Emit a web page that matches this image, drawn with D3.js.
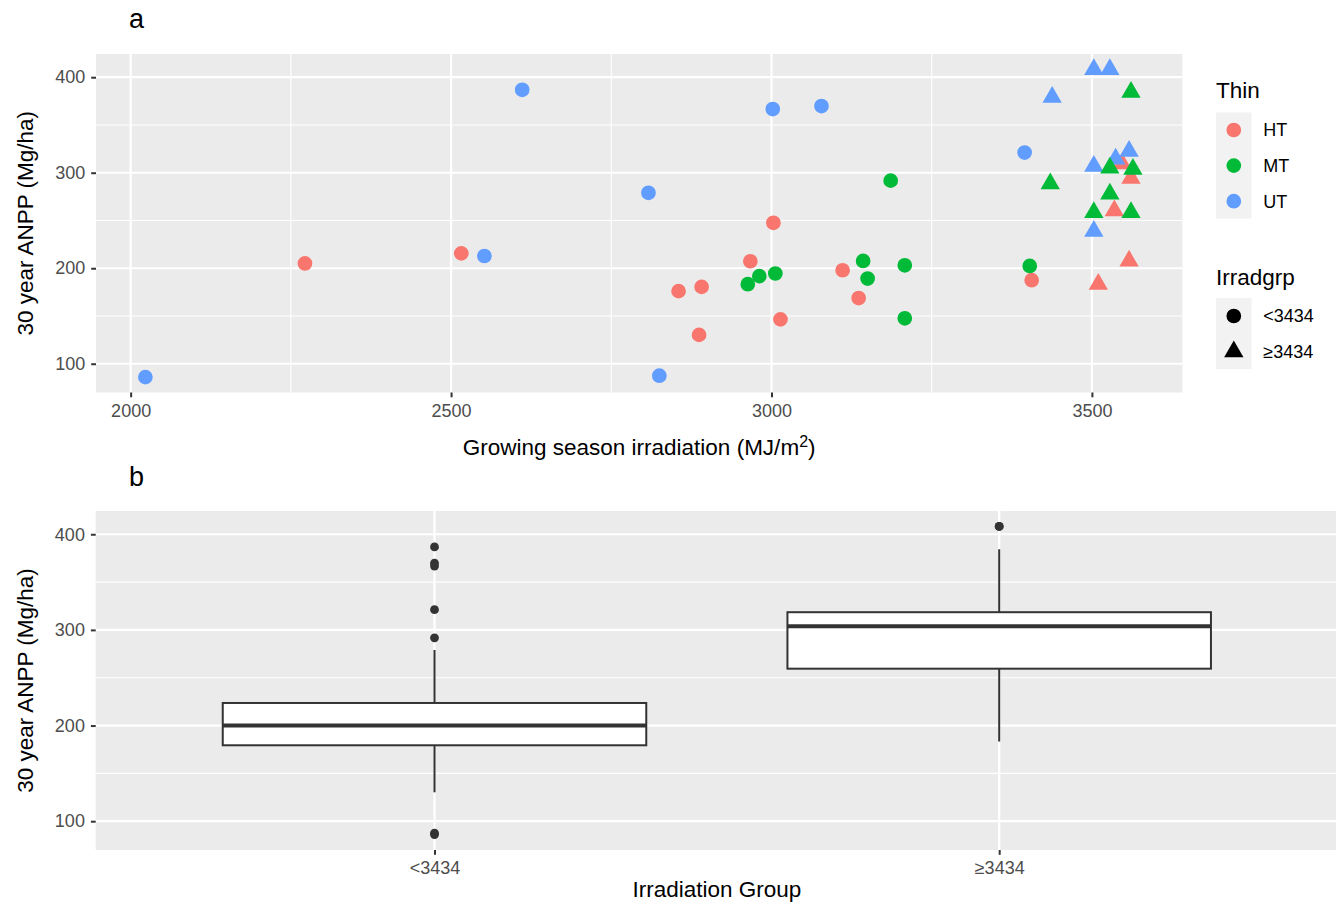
<!DOCTYPE html>
<html>
<head>
<meta charset="utf-8">
<script src="https://cdn.jsdelivr.net/npm/d3@7.9.0/dist/d3.min.js"></script>
<style>
  body { margin: 0; background: #fff; }
  svg { display: block; font-family: "Liberation Sans", Arial, sans-serif; }
</style>
</head>
<body>
<svg id="chart" width="1336" height="902"></svg>
<script>
// values, one entry per stand (rows kept aligned)
const thin = [
  'HT','HT','HT','HT','HT','HT','HT','HT','HT','HT','HT',
  'HT','HT','HT','HT','HT',
  'UT','UT','UT','UT','UT','UT','UT','UT',
  'UT','UT','UT','UT','UT','UT','UT',
  'MT','MT','MT','MT','MT','MT','MT','MT','MT',
  'MT','MT','MT','MT','MT','MT','MT'
];
const irradiation = [
  2272, 2516, 3003, 2967, 2855, 2891, 2887, 3014, 3111, 3136, 3406,
  3547, 3561, 3535, 3558, 3510,
  2023, 2552, 2611, 2808, 2825, 3002, 3078, 3395,
  3503, 3528, 3438, 3558, 3537, 3503, 3503,
  3186, 2981, 3006, 2963, 3143, 3150, 3208, 3208, 3403,
  3561, 3528, 3564, 3435, 3528, 3503, 3561
];
const anpp = [
  205, 215.6, 247.6, 207.3, 176, 180.5, 130.2, 146.5, 197.9, 168.8, 187.5,
  309.6, 294.4, 260.4, 207.6, 183.3,
  86, 212.8, 386.8, 279, 87.5, 366.7, 369.8, 321.1,
  408.2, 408.2, 379.1, 322.5, 314.5, 306.9, 238.9,
  291.7, 191.7, 194.5, 183.3, 207.6, 189.2, 203.1, 147.6, 202.4,
  384.3, 305.1, 303.7, 288.5, 277.8, 258.5, 258.5
];
const irradgrp = [
  '<3434','<3434','<3434','<3434','<3434','<3434','<3434','<3434','<3434','<3434','<3434',
  '≥3434','≥3434','≥3434','≥3434','≥3434',
  '<3434','<3434','<3434','<3434','<3434','<3434','<3434','<3434',
  '≥3434','≥3434','≥3434','≥3434','≥3434','≥3434','≥3434',
  '<3434','<3434','<3434','<3434','<3434','<3434','<3434','<3434','<3434',
  '≥3434','≥3434','≥3434','≥3434','≥3434','≥3434','≥3434'
];

const thinLevels = ['HT', 'MT', 'UT'];
const thinColors = ['#F8766D', '#00BA38', '#619CFF'];
const irradLevels = ['<3434', '≥3434'];
const xTicks = [2000, 2500, 3000, 3500];
const xMinor = [2250, 2750, 3250];
const yTicks = [100, 200, 300, 400];
const yMinor = [150, 250, 350];

const data = thin.map((t, i) => ({
  thin: t,
  x: irradiation[i],
  y: anpp[i],
  grp: irradgrp[i],
}));

const svg = d3.select('#chart');
const color = d3.scaleOrdinal().domain(thinLevels).range(thinColors);
const shape = d3.scaleOrdinal().domain(irradLevels).range([d3.symbolCircle, d3.symbolTriangle]);
const shapeSize = { '<3434': 170, '≥3434': 162 };
const symbol = (g) => d3.symbol().type(shape(g)).size(shapeSize[g])();

const TICK = '#333333', LABEL = '#4D4D4D', PANEL = '#EBEBEB';
const TITLE_SIZE = '22.5px', TEXT_SIZE = '18px';

// ggplot style 5% expansion
function expanded(vals) {
  const [lo, hi] = d3.extent(vals);
  const pad = (hi - lo) * 0.05;
  return [lo - pad, hi + pad];
}

function drawGrid(g, area, xScale, yScale, xMaj, xMin) {
  g.append('rect')
    .attr('x', area.left).attr('y', area.top)
    .attr('width', area.right - area.left).attr('height', area.bottom - area.top)
    .attr('fill', PANEL);
  g.selectAll('.ymin').data(yMinor).join('line')
    .attr('x1', area.left).attr('x2', area.right)
    .attr('y1', d => yScale(d)).attr('y2', d => yScale(d))
    .attr('stroke', '#fff').attr('stroke-width', 1.1);
  g.selectAll('.xmin').data(xMin).join('line')
    .attr('y1', area.top).attr('y2', area.bottom)
    .attr('x1', d => xScale(d)).attr('x2', d => xScale(d))
    .attr('stroke', '#fff').attr('stroke-width', 1.1);
  g.selectAll('.ymaj').data(yTicks).join('line')
    .attr('x1', area.left).attr('x2', area.right)
    .attr('y1', d => yScale(d)).attr('y2', d => yScale(d))
    .attr('stroke', '#fff').attr('stroke-width', 2.2);
  g.selectAll('.xmaj').data(xMaj).join('line')
    .attr('y1', area.top).attr('y2', area.bottom)
    .attr('x1', d => xScale(d)).attr('x2', d => xScale(d))
    .attr('stroke', '#fff').attr('stroke-width', 2.2);
}

function styleAxis(g) {
  g.attr('font-size', null).attr('font-family', null);
  g.select('.domain').remove();
  g.selectAll('.tick line').attr('stroke', TICK).attr('stroke-width', 2);
  g.selectAll('.tick text').attr('fill', LABEL).style('font-size', TEXT_SIZE);
}

function yTitle(cy) {
  svg.append('text')
    .attr('transform', `translate(33, ${cy}) rotate(-90)`)
    .attr('text-anchor', 'middle')
    .style('font-size', TITLE_SIZE)
    .text('30 year ANPP (Mg/ha)');
}

// ---------- panel a: scatter ----------
function renderScatter() {
  const area = { left: 96, right: 1182.3, top: 54, bottom: 392.5 };
  const xScale = d3.scaleLinear().domain(expanded(irradiation)).range([area.left, area.right]);
  const yScale = d3.scaleLinear().domain(expanded(anpp)).range([area.bottom, area.top]);

  const g = svg.append('g');
  drawGrid(g, area, xScale, yScale, xTicks, xMinor);

  g.append('g')
    .attr('transform', `translate(${area.left},0)`)
    .call(d3.axisLeft(yScale).tickValues(yTicks).tickFormat(d3.format('d')).tickSize(4.8).tickPadding(6))
    .call(styleAxis);
  g.append('g')
    .attr('transform', `translate(0,${area.bottom})`)
    .call(d3.axisBottom(xScale).tickValues(xTicks).tickFormat(d3.format('d')).tickSize(4.8).tickPadding(6.7))
    .call(styleAxis);

  g.append('g').selectAll('path')
    .data(data)
    .join('path')
    .attr('transform', d => `translate(${xScale(d.x)},${yScale(d.y)})`)
    .attr('d', d => symbol(d.grp))
    .attr('fill', d => color(d.thin));

  const xt = svg.append('text')
    .attr('x', (area.left + area.right) / 2).attr('y', 455)
    .attr('text-anchor', 'middle')
    .style('font-size', TITLE_SIZE)
    .text('Growing season irradiation (MJ/m');
  xt.append('tspan').attr('dy', -8).style('font-size', '16px').text('2');
  xt.append('tspan').attr('dy', 8).text(')');

  yTitle((area.top + area.bottom) / 2);
  svg.append('text').attr('x', 129).attr('y', 28).style('font-size', '27px').text('a');

  // legends
  const lg = svg.append('g');
  lg.append('text').attr('x', 1216).attr('y', 98).style('font-size', TITLE_SIZE).text('Thin');
  lg.append('rect').attr('x', 1216).attr('y', 112.5).attr('width', 35.5).attr('height', 106)
    .attr('fill', '#F2F2F2');
  const thinKeys = lg.selectAll('.thin').data(thinLevels).join('g')
    .attr('transform', (d, i) => `translate(1233.8, ${130 + i * 35.6})`);
  thinKeys.append('path').attr('d', symbol('<3434')).attr('fill', d => color(d));
  thinKeys.append('text').attr('x', 29.5).attr('dy', '0.36em')
    .style('font-size', TEXT_SIZE).text(d => d);

  lg.append('text').attr('x', 1216).attr('y', 285).style('font-size', TITLE_SIZE).text('Irradgrp');
  lg.append('rect').attr('x', 1216).attr('y', 298).attr('width', 35.5).attr('height', 71)
    .attr('fill', '#F2F2F2');
  const grpKeys = lg.selectAll('.grp').data(irradLevels).join('g')
    .attr('transform', (d, i) => `translate(1233.8, ${316 + i * 35.6})`);
  grpKeys.append('path').attr('d', d => symbol(d)).attr('fill', '#000');
  grpKeys.append('text').attr('x', 29.5).attr('dy', '0.36em')
    .style('font-size', TEXT_SIZE).text(d => d);
}

// ---------- panel b: boxplot ----------
function renderBoxplot() {
  const area = { left: 95.7, right: 1338, top: 511, bottom: 850 };
  const xScale = d3.scalePoint().domain(irradLevels).range([area.left, area.right]).padding(0.6);
  const yScale = d3.scaleLinear().domain(expanded(anpp)).range([area.bottom, area.top]);
  const boxW = xScale.step() * 0.75;

  const g = svg.append('g');
  drawGrid(g, area, xScale, yScale, irradLevels, []);

  g.append('g')
    .attr('transform', `translate(${area.left},0)`)
    .call(d3.axisLeft(yScale).tickValues(yTicks).tickFormat(d3.format('d')).tickSize(4.8).tickPadding(6))
    .call(styleAxis);
  g.append('g')
    .attr('transform', `translate(0,${area.bottom})`)
    .call(d3.axisBottom(xScale).tickSize(4.8).tickPadding(6.9))
    .call(styleAxis);

  const stats = irradLevels.map(k => {
    const v = data.filter(d => d.grp === k).map(d => d.y).sort(d3.ascending);
    const q1 = d3.quantile(v, 0.25), med = d3.quantile(v, 0.5), q3 = d3.quantile(v, 0.75);
    const iqr = q3 - q1;
    const inside = v.filter(x => x >= q1 - 1.5 * iqr && x <= q3 + 1.5 * iqr);
    return {
      key: k, q1, med, q3,
      lo: d3.min(inside), hi: d3.max(inside),
      out: v.filter(x => x < q1 - 1.5 * iqr || x > q3 + 1.5 * iqr),
    };
  });

  const box = g.append('g').selectAll('g').data(stats).join('g');
  box.append('line')
    .attr('x1', d => xScale(d.key)).attr('x2', d => xScale(d.key))
    .attr('y1', d => yScale(d.hi)).attr('y2', d => yScale(d.q3))
    .attr('stroke', TICK).attr('stroke-width', 2);
  box.append('line')
    .attr('x1', d => xScale(d.key)).attr('x2', d => xScale(d.key))
    .attr('y1', d => yScale(d.q1)).attr('y2', d => yScale(d.lo))
    .attr('stroke', TICK).attr('stroke-width', 2);
  box.append('rect')
    .attr('x', d => xScale(d.key) - boxW / 2).attr('width', boxW)
    .attr('y', d => yScale(d.q3)).attr('height', d => yScale(d.q1) - yScale(d.q3))
    .attr('fill', '#fff').attr('stroke', TICK).attr('stroke-width', 2);
  box.append('line')
    .attr('x1', d => xScale(d.key) - boxW / 2).attr('x2', d => xScale(d.key) + boxW / 2)
    .attr('y1', d => yScale(d.med)).attr('y2', d => yScale(d.med))
    .attr('stroke', TICK).attr('stroke-width', 4);
  box.selectAll('circle').data(d => d.out.map(y => ({ key: d.key, y }))).join('circle')
    .attr('cx', d => xScale(d.key)).attr('cy', d => yScale(d.y))
    .attr('r', 4.4).attr('fill', TICK);

  svg.append('text')
    .attr('x', (area.left + area.right) / 2).attr('y', 897)
    .attr('text-anchor', 'middle')
    .style('font-size', TITLE_SIZE)
    .text('Irradiation Group');

  yTitle((area.top + area.bottom) / 2);
  svg.append('text').attr('x', 129).attr('y', 486).style('font-size', '27px').text('b');
}

renderScatter();
renderBoxplot();
</script>
</body>
</html>
